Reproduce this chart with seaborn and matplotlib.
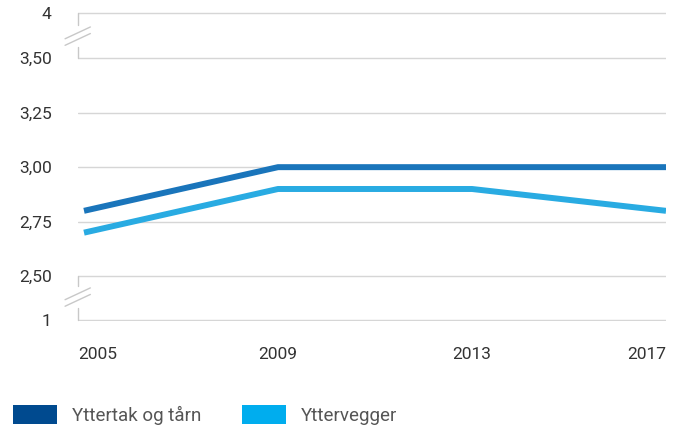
import matplotlib
matplotlib.use("Agg")
import matplotlib.pyplot as plt
import matplotlib.transforms as mtransforms
from matplotlib.patches import Patch
import seaborn as sns
import pandas as pd

years = [2005, 2009, 2013, 2017]
yttertak = [2.80, 3.00, 3.00, 3.00]
yttervegger = [2.70, 2.90, 2.90, 2.80]
series_names = ["Yttertak og tårn", "Yttervegger"]
line_colors = ["#1a75bb", "#29abe2"]
legend_colors = ["#004a8f", "#00adee"]
# tick positions (broken axis: 1 and 4 drawn close to the 2.50/3.50 ticks)
ytick_pos = [2.30, 2.50, 2.75, 3.00, 3.25, 3.50, 3.706]
ytick_labels = ["1", "2,50", "2,75", "3,00", "3,25", "3,50", "4"]
xtick_labels = ["2005", "2009", "2013", "2017"]

df = pd.DataFrame({
    "year": years * 2,
    "value": yttertak + yttervegger,
    "series": [series_names[0]] * 4 + [series_names[1]] * 4,
})

sns.set_theme(style="white")
plt.rcParams["font.family"] = ["Roboto", "DejaVu Sans"]

fig = plt.figure(figsize=(6.8, 4.25), dpi=100)
ax = fig.add_axes([78 / 680, 1 - 321 / 425, 588 / 680, 309 / 425])

sns.lineplot(data=df, x="year", y="value", hue="series",
             palette=line_colors, linewidth=4.3, ax=ax, legend=False,
             solid_capstyle="butt")

ax.set_xlim(2005 - 6 / 194 * 4, 2017)
ax.set_ylim(ytick_pos[0] - 0.0046, ytick_pos[-1] + 0.0046)
ax.set_yticks(ytick_pos)
ax.set_yticklabels(ytick_labels)
ax.set_xticks(years)
ax.set_xticklabels(xtick_labels)
for s in ax.spines.values():
    s.set_visible(False)
ax.set_xlabel("")
ax.set_ylabel("")
ax.grid(axis="y", color="#d6d6d6", linewidth=1)
ax.set_axisbelow(True)
ax.tick_params(axis="y", length=0, pad=19, labelsize=12.5, labelcolor="#333333")
ax.tick_params(axis="x", length=0, pad=19, labelsize=12.5, labelcolor="#333333")

xl = ax.get_xticklabels()
xl[0].set_ha("left")
xl[0].set_transform(xl[0].get_transform() + mtransforms.ScaledTranslation(-6 / 100, 0, fig.dpi_scale_trans))
xl[-1].set_ha("right")

# left axis segments around the breaks
gc = "#c8c8c8"
tr = ax.get_yaxis_transform()
for y0, y1 in [(3.706, 3.651), (3.55, 3.50), (2.50, 2.454), (2.355, 2.30)]:
    ax.plot([0, 0], [y0, y1], color=gc, linewidth=1, transform=tr, clip_on=False)
# break marks
for yc in [3.60, 2.405]:
    for dy in [0.015, -0.015]:
        ax.plot([-0.022, 0.021], [yc + dy - 0.027, yc + dy + 0.027], color=gc,
                linewidth=1, transform=tr, clip_on=False)

handles = [Patch(facecolor=c, edgecolor="none", label=n) for c, n in zip(legend_colors, series_names)]
fig.legend(handles=handles, loc="lower left", bbox_to_anchor=(13 / 680, 0), ncol=2,
           frameon=False, fontsize=13.5, handlelength=2.35, handleheight=1.23,
           handletextpad=0.8, columnspacing=2.17, labelcolor="#555555",
           borderpad=0, borderaxespad=0)

fig.savefig("out.png", dpi=100)
